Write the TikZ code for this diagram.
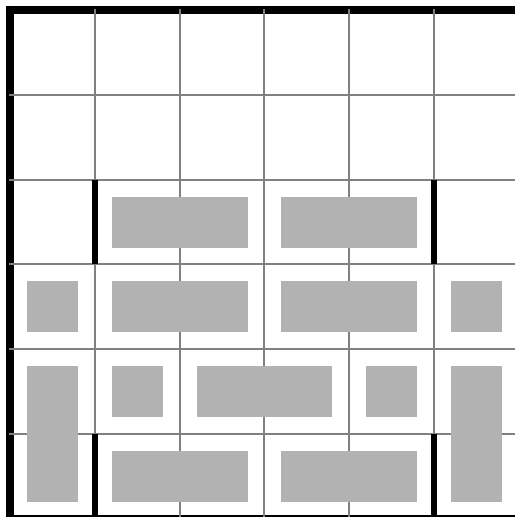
\documentclass[tikz,border=0pt]{standalone}
\begin{document}
\begin{tikzpicture}[x=84.83pt,y=-84.83pt,
  gridline/.style={draw=black!50, line width=2pt},
  wall/.style={draw=black, line width=6pt, line cap=square},
  block/.style={fill=black!30, draw=none}]
\useasboundingbox (-0.1179,-0.1179) rectangle (5.953,5.977);
\fill[white] (-0.1179,-0.1179) rectangle (5.953,5.977);
% outer border
\draw[black, line width=8pt] (0,0) rectangle (6,6);
% grid
\foreach \i in {1,...,5} {
  \draw[gridline] (\i,-0.01) -- (\i,6);
  \draw[gridline] (-0.01,\i) -- (6,\i);
}
% blocks
\path[block] (1.2,2.2) rectangle (2.8,2.8);
\path[block] (3.2,2.2) rectangle (4.8,2.8);
\path[block] (0.2,3.2) rectangle (0.8,3.8);
\path[block] (1.2,3.2) rectangle (2.8,3.8);
\path[block] (3.2,3.2) rectangle (4.8,3.8);
\path[block] (5.2,3.2) rectangle (5.8,3.8);
\path[block] (0.2,4.2) rectangle (0.8,5.8);
\path[block] (1.2,4.2) rectangle (1.8,4.8);
\path[block] (2.2,4.2) rectangle (3.8,4.8);
\path[block] (4.2,4.2) rectangle (4.8,4.8);
\path[block] (5.2,4.2) rectangle (5.8,5.8);
\path[block] (1.2,5.2) rectangle (2.8,5.8);
\path[block] (3.2,5.2) rectangle (4.8,5.8);
% walls
\coordinate (w1a) at (1,2); \coordinate (w1b) at (1,3);
\coordinate (w2a) at (5,2); \coordinate (w2b) at (5,3);
\coordinate (w3a) at (1,5); \coordinate (w3b) at (1,6);
\coordinate (w4a) at (5,5); \coordinate (w4b) at (5,6);
\draw[wall] (w1a) -- (w1b);
\draw[wall] (w2a) -- (w2b);
\draw[wall] (w3a) -- (w3b);
\draw[wall] (w4a) -- (w4b);
\end{tikzpicture}
\end{document}
